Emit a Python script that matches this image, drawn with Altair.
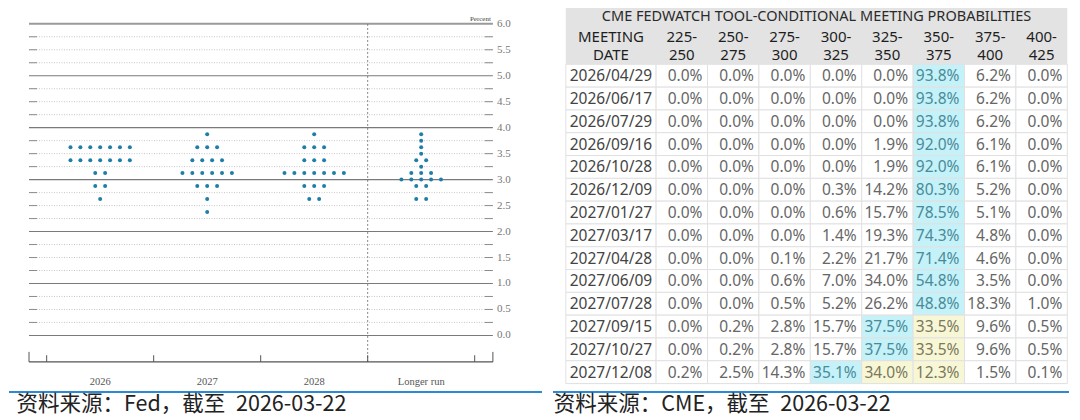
import altair as alt
import pandas as pd
import numpy as np

# ---------------- Left panel: FOMC dot plot ----------------
dot_columns = ["2026", "2027", "2028", "Longer run"]
dots_2026 = [3.625, 3.625, 3.625, 3.625, 3.625, 3.625, 3.625,
             3.375, 3.375, 3.375, 3.375, 3.375, 3.375, 3.375,
             3.125, 3.125, 2.875, 2.875, 2.625]
dots_2027 = [3.875, 3.625, 3.625, 3.625, 3.375, 3.375, 3.375, 3.375,
             3.125, 3.125, 3.125, 3.125, 3.125, 3.125,
             2.875, 2.875, 2.875, 2.625, 2.375]
dots_2028 = [3.875, 3.625, 3.625, 3.625, 3.375, 3.375, 3.375,
             3.125, 3.125, 3.125, 3.125, 3.125, 3.125, 3.125,
             2.875, 2.875, 2.875, 2.625, 2.625]
dots_longer = [3.875, 3.75, 3.625, 3.5, 3.375, 3.375, 3.25,
               3.125, 3.125, 3.125, 3.0, 3.0, 3.0, 3.0, 3.0,
               2.875, 2.875, 2.625, 2.625]
y_tick_labels = [0.0, 0.5, 1.0, 1.5, 2.0, 2.5, 3.0, 3.5, 4.0, 4.5, 5.0, 5.5, 6.0]
source_left = "资料来源：Fed，截至\u20022026-03-22"

# ---------------- Right panel: CME FedWatch table ----------------
table_title = "CME FEDWATCH TOOL-CONDITIONAL MEETING PROBABILITIES"
meeting_dates = ["2026/04/29", "2026/06/17", "2026/07/29", "2026/09/16", "2026/10/28",
                 "2026/12/09", "2027/01/27", "2027/03/17", "2027/04/28", "2027/06/09",
                 "2027/07/28", "2027/09/15", "2027/10/27", "2027/12/08"]
rate_ranges = ["225-250", "250-275", "275-300", "300-325", "325-350", "350-375", "375-400", "400-425"]
p_225_250 = [0.0, 0.0, 0.0, 0.0, 0.0, 0.0, 0.0, 0.0, 0.0, 0.0, 0.0, 0.0, 0.0, 0.2]
p_250_275 = [0.0, 0.0, 0.0, 0.0, 0.0, 0.0, 0.0, 0.0, 0.0, 0.0, 0.0, 0.2, 0.2, 2.5]
p_275_300 = [0.0, 0.0, 0.0, 0.0, 0.0, 0.0, 0.0, 0.0, 0.1, 0.6, 0.5, 2.8, 2.8, 14.3]
p_300_325 = [0.0, 0.0, 0.0, 0.0, 0.0, 0.3, 0.6, 1.4, 2.2, 7.0, 5.2, 15.7, 15.7, 35.1]
p_325_350 = [0.0, 0.0, 0.0, 1.9, 1.9, 14.2, 15.7, 19.3, 21.7, 34.0, 26.2, 37.5, 37.5, 34.0]
p_350_375 = [93.8, 93.8, 93.8, 92.0, 92.0, 80.3, 78.5, 74.3, 71.4, 54.8, 48.8, 33.5, 33.5, 12.3]
p_375_400 = [6.2, 6.2, 6.2, 6.1, 6.1, 5.2, 5.1, 4.8, 4.6, 3.5, 18.3, 9.6, 9.6, 1.5]
p_400_425 = [0.0, 0.0, 0.0, 0.0, 0.0, 0.0, 0.0, 0.0, 0.0, 0.0, 1.0, 0.5, 0.5, 0.1]
current_range = "350-375"
source_right = "资料来源：CME，截至\u20022026-03-22"

# ================= build left panel =================
X_LEFT, X_RIGHT = -0.852, 4.129      # view domain (column units)
PLOT_L, PLOT_R = -0.665, 3.67        # framed plot region
Y_BOT, Y_TOP = -1.089, 6.304         # view domain (percent)
AXIS_Y = -0.51
DOT_STEP = 0.0925
STUB = 0.075

xs = alt.Scale(domain=[X_LEFT, X_RIGHT], nice=False, zero=False)
ys = alt.Scale(domain=[Y_BOT, Y_TOP], nice=False, zero=False)

def X(f, t="Q"):
    return alt.X(f"{f}:{t}", scale=xs, axis=None)

def Y(f, t="Q"):
    return alt.Y(f"{f}:{t}", scale=ys, axis=None)

dot_lists = [dots_2026, dots_2027, dots_2028, dots_longer]
dots_df = pd.DataFrame([{"col": i, "rate": r} for i, lst in enumerate(dot_lists) for r in lst])

levels = np.round(np.arange(0, 6.0001, 0.25), 2)
grid_df = pd.DataFrame({"lvl": levels, "x0": PLOT_L, "x1": PLOT_R})
minor_df = grid_df[grid_df.lvl % 1 != 0]
major_df = grid_df[(grid_df.lvl % 1 == 0) & (grid_df.lvl < 6)]
top_df = grid_df[grid_df.lvl == 6]

stub_rows = []
for l in minor_df.lvl:
    stub_rows.append({"lvl": l, "x0": PLOT_L, "x1": PLOT_L + STUB})
    stub_rows.append({"lvl": l, "x0": PLOT_R - STUB, "x1": PLOT_R})
stub_df = pd.DataFrame(stub_rows)

tick_rows = [{"x": v, "y0": AXIS_Y, "y1": AXIS_Y + 0.129} for v in [-0.5, 0.5, 1.5, 2.5, 3.5]]
tick_rows += [{"x": v, "y0": AXIS_Y, "y1": AXIS_Y + 0.193} for v in [PLOT_L, PLOT_R]]
tick_df = pd.DataFrame(tick_rows)

frame_df = pd.DataFrame([{"x0": PLOT_L, "x1": PLOT_R, "y": AXIS_Y, "xv": 2.5, "ytop": 6.0}])
sep_df = pd.DataFrame([{"x0": X_LEFT, "x1": X_RIGHT, "y": Y_BOT}])

minor = alt.Chart(minor_df).mark_rule(color="#b9b9b9", strokeWidth=0.8, strokeDash=[1, 1.5]).encode(
    x=X("x0"), x2="x1", y=Y("lvl"))
stubs = alt.Chart(stub_df).mark_rule(color="#8c8c8c", strokeWidth=1).encode(
    x=X("x0"), x2="x1", y=Y("lvl"))
major = alt.Chart(major_df).mark_rule(color="#7a7a7a", strokeWidth=1.1).encode(
    x=X("x0"), x2="x1", y=Y("lvl"))
top = alt.Chart(top_df).mark_rule(color="#9a9a9a", strokeWidth=2).encode(
    x=X("x0"), x2="x1", y=Y("lvl"))
vline = alt.Chart(frame_df).mark_rule(color="#777777", strokeWidth=0.9, strokeDash=[2, 2]).encode(
    x=X("xv"), y=Y("y"), y2="ytop")
baseline = alt.Chart(frame_df).mark_rule(color="#555555", strokeWidth=1.2).encode(
    x=X("x0"), x2="x1", y=Y("y"))
ticks = alt.Chart(tick_df).mark_rule(color="#555555", strokeWidth=1).encode(
    x=X("x"), y=Y("y0"), y2="y1")
dots = alt.Chart(dots_df).transform_window(
    k="row_number()", groupby=["col", "rate"]
).transform_joinaggregate(
    n="count()", groupby=["col", "rate"]
).transform_calculate(
    xpos=f"datum.col + (datum.k - 1 - (datum.n - 1) / 2) * {DOT_STEP}"
).mark_circle(size=16, color="#1f7ea8", opacity=1).encode(x=X("xpos"), y=Y("rate"))

ylab_df = pd.DataFrame({"v": y_tick_labels, "x": PLOT_R})
ylabels = alt.Chart(ylab_df).mark_text(
    align="left", baseline="middle", dx=4, font="Liberation Serif", fontSize=11, color="#777777"
).encode(x=X("x"), y=Y("v"), text=alt.Text("v:Q", format=".1f"))

xlab_df = pd.DataFrame({"i": list(range(len(dot_columns))), "name": dot_columns, "y": AXIS_Y})
xlabels = alt.Chart(xlab_df).mark_text(
    align="center", baseline="middle", dy=20, font="Liberation Serif", fontSize=10.5, color="#555555"
).encode(x=X("i"), y=Y("y"), text="name:N")

pct_df = pd.DataFrame([{"x": PLOT_R, "y": 6.0, "t": "Percent"}])
pct = alt.Chart(pct_df).mark_text(
    align="right", baseline="bottom", dx=-2, dy=-2, font="Liberation Serif", fontSize=7, color="#444444"
).encode(x=X("x"), y=Y("y"), text="t:N")

sep_left = alt.Chart(sep_df).mark_rule(color="#2b8ad3", strokeWidth=2).encode(
    x=X("x0"), x2="x1", y=Y("y"))

left = alt.layer(minor, stubs, major, top, vline, baseline, ticks, dots,
                 ylabels, xlabels, pct, sep_left).properties(
    width=533, height=384,
    title=alt.TitleParams(source_left, orient="bottom", anchor="start", font="Noto Sans CJK SC",
                          fontSize=21.5, fontWeight="normal", color="#222222", offset=1, dx=8.5),
)

# ================= build right panel =================
TX_L, TX_R = -0.249, 9.79
TY_T, TY_B = -2.47, 14.37
DATE_W = 1.757
col_widths = [DATE_W] + [1.0] * len(rate_ranges)
edges = np.concatenate([[0.0], np.cumsum(col_widths)])
TABLE_W = edges[-1]

txs = alt.Scale(domain=[TX_L, TX_R], nice=False, zero=False)
tys = alt.Scale(domain=[TY_T, TY_B], nice=False, zero=False, reverse=True)

def TX(f):
    return alt.X(f"{f}:Q", scale=txs, axis=None)

def TY(f):
    return alt.Y(f"{f}:Q", scale=tys, axis=None)

prob_cols = [p_225_250, p_250_275, p_275_300, p_300_325, p_325_350, p_350_375, p_375_400, p_400_425]
cur_idx = rate_ranges.index(current_range)
cells = []
for r, d in enumerate(meeting_dates):
    vals = [pc[r] for pc in prob_cols]
    mx = int(np.argmax(vals))
    cells.append({"r": r, "r1": r + 1, "rc": r + 0.5, "x0": edges[0], "x1": edges[1],
                  "xc": (edges[0] + edges[1]) / 2,
                  "label": d, "fill": "white", "tcol": "date", "kind": "date"})
    for j, v in enumerate(vals):
        if j == mx:
            f = "cyan"
        elif mx < j <= cur_idx:
            f = "yellow"
        else:
            f = "white"
        cells.append({"r": r, "r1": r + 1, "rc": r + 0.5, "x0": edges[j + 1], "x1": edges[j + 2],
                      "xc": (edges[j + 1] + edges[j + 2]) / 2,
                      "label": f"{v:.1f}%", "fill": f, "tcol": f if f != "white" else "normal",
                      "kind": "value"})
cells_df = pd.DataFrame(cells)

head_bg_df = pd.DataFrame([{"x0": 0.0, "x1": TABLE_W, "y0": TY_T, "y1": 0.0}])
head_rows = [{"x": TABLE_W / 2, "y": -2.07, "t": table_title, "kind": "title"},
             {"x": (edges[0] + edges[1]) / 2, "y": -1.20, "t": "MEETING", "kind": "head"},
             {"x": (edges[0] + edges[1]) / 2, "y": -0.405, "t": "DATE", "kind": "head"}]
for j, rr in enumerate(rate_ranges):
    a, b = rr.split("-")
    xc = (edges[j + 1] + edges[j + 2]) / 2
    head_rows.append({"x": xc, "y": -1.20, "t": a + "-", "kind": "head"})
    head_rows.append({"x": xc, "y": -0.405, "t": b, "kind": "head"})
head_df = pd.DataFrame(head_rows)

fill_scale = alt.Scale(domain=["white", "cyan", "yellow"], range=["#ffffff", "#c5f1f8", "#f8f7d5"])
tcol_scale = alt.Scale(domain=["date", "normal", "cyan", "yellow"],
                       range=["#444444", "#666666", "#4a8b99", "#7a785e"])

head_bg = alt.Chart(head_bg_df).mark_rect(color="#e3e3e3").encode(
    x=TX("x0"), x2="x1", y=TY("y0"), y2="y1")
cell_rects = alt.Chart(cells_df).mark_rect(stroke="#e1e1e1", strokeWidth=1).encode(
    x=TX("x0"), x2="x1", y=TY("r"), y2="r1",
    fill=alt.Fill("fill:N", scale=fill_scale, legend=None))
date_text = alt.Chart(cells_df).transform_filter("datum.kind == 'date'").mark_text(
    align="center", baseline="middle", font="Noto Sans", fontSize=15.5, dy=0.5
).encode(x=TX("xc"), y=TY("rc"), text="label:N",
         color=alt.Color("tcol:N", scale=tcol_scale, legend=None))
val_text = alt.Chart(cells_df).transform_filter("datum.kind == 'value'").mark_text(
    align="right", baseline="middle", font="Noto Sans", fontSize=15.5, dx=-5, dy=0.5
).encode(x=TX("x1"), y=TY("rc"), text="label:N",
         color=alt.Color("tcol:N", scale=tcol_scale, legend=None))
head_text = alt.Chart(head_df).transform_filter("datum.kind == 'head'").mark_text(
    align="center", baseline="middle", font="Noto Sans", fontSize=15, color="#1e1e1e"
).encode(x=TX("x"), y=TY("y"), text="t:N")
title_text = alt.Chart(head_df).transform_filter("datum.kind == 'title'").mark_text(
    align="center", baseline="middle", font="Noto Sans", fontSize=14.5, color="#2a2a2a"
).encode(x=TX("x"), y=TY("y"), text="t:N")

sep_r_df = pd.DataFrame([{"x0": TX_L, "x1": TX_R, "y": TY_B}])
sep_right = alt.Chart(sep_r_df).mark_rule(color="#2b8ad3", strokeWidth=2).encode(
    x=TX("x0"), x2="x1", y=TY("y"))

right = alt.layer(head_bg, cell_rects, date_text, val_text, head_text, title_text, sep_right).properties(
    width=516, height=384,
    title=alt.TitleParams(source_right, orient="bottom", anchor="start", font="Noto Sans CJK SC",
                          fontSize=21.5, fontWeight="normal", color="#222222", offset=1, dx=1.7),
)

chart = alt.hconcat(left, right, spacing=9).properties(padding=0).configure_view(stroke=None)
chart.save("out.html", embed_options={"renderer": "svg", "actions": False})
